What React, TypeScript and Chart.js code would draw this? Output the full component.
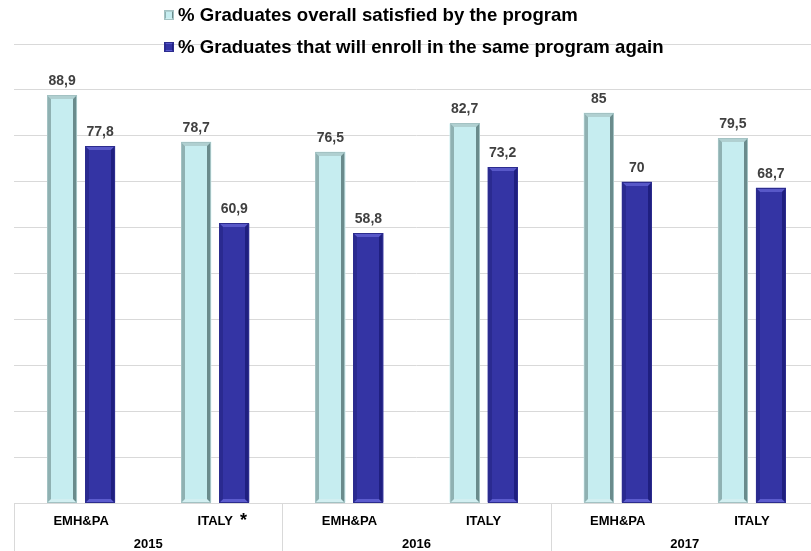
import React, { useEffect, useRef } from 'react';
import { Chart, registerables } from 'chart.js';

Chart.register(...registerables);

const categories = ['EMH&PA', 'ITALY *', 'EMH&PA', 'ITALY', 'EMH&PA', 'ITALY'];
const years = ['2015', '2016', '2017'];
const satisfied = [88.9, 78.7, 76.5, 82.7, 85, 79.5];
const enrollAgain = [77.8, 60.9, 58.8, 73.2, 70, 68.7];
const seriesNames = [
  '% Graduates overall satisfied by the program',
  '% Graduates that will enroll in the same program again',
];
const yMin = 0;
const yMax = 100;
const yStep = 10;

const FONT = 'Arial, "Liberation Sans", sans-serif';
const fills = ['#c6edf0', '#3434a4'];
const bevelTop = ['#b0d0d1', '#5858c8'];
const bevelLeft = ['#8fb1b2', '#2a2a90'];
const bevelRight = ['#6a8b8c', '#1f1f80'];
const bevelBottom = ['#d2eff1', '#5c5cce'];
const outlines = ['#a3c2c3', '#2c2c8e'];

const fmt = (v: number) => String(v).replace('.', ',');

function bevelRect(ctx: any, l: number, t: number, r: number, b: number, di: number, bw: number) {
  ctx.save();
  ctx.fillStyle = fills[di];
  ctx.fillRect(l, t, r - l, b - t);
  const poly = (pts: number[][], color: string) => {
    ctx.fillStyle = color;
    ctx.beginPath();
    ctx.moveTo(pts[0][0], pts[0][1]);
    for (let k = 1; k < pts.length; k++) ctx.lineTo(pts[k][0], pts[k][1]);
    ctx.closePath();
    ctx.fill();
  };
  poly([[l, t], [r, t], [r - bw, t + bw], [l + bw, t + bw]], bevelTop[di]);
  poly([[l, b], [r, b], [r - bw, b - bw], [l + bw, b - bw]], bevelBottom[di]);
  poly([[l, t], [l + bw, t + bw], [l + bw, b - bw], [l, b]], bevelLeft[di]);
  poly([[r, t], [r - bw, t + bw], [r - bw, b - bw], [r, b]], bevelRight[di]);
  ctx.strokeStyle = outlines[di];
  ctx.lineWidth = 1;
  ctx.strokeRect(l + 0.5, t + 0.5, r - l - 1, b - t - 1);
  ctx.restore();
}

const decorPlugin = {
  id: 'decor',
  afterDatasetsDraw(chart: any) {
    const ctx = chart.ctx;
    chart.data.datasets.forEach((ds: any, di: number) => {
      const meta = chart.getDatasetMeta(di);
      meta.data.forEach((bar: any, i: number) => {
        const p = bar.getProps(['x', 'y', 'base', 'width'], true);
        const l = Math.round(p.x - p.width / 2);
        const r = Math.round(p.x + p.width / 2);
        const t = Math.round(p.y);
        const b = Math.round(p.base);
        bevelRect(ctx, l, t, r, b, di, 4);
        ctx.save();
        ctx.font = `bold 14px ${FONT}`;
        ctx.fillStyle = '#404040';
        ctx.textAlign = 'center';
        ctx.textBaseline = 'middle';
        ctx.fillText(fmt(ds.data[i]), p.x, p.y - 14);
        ctx.restore();
      });
    });
  },
  afterDraw(chart: any) {
    const ctx = chart.ctx;
    const xs = chart.scales.x;
    const area = chart.chartArea;
    const catW = (xs.right - xs.left) / categories.length;
    ctx.save();
    ctx.strokeStyle = '#d9d9d9';
    ctx.lineWidth = 1;
    for (let k = 0; k <= years.length; k++) {
      const px = Math.round(xs.getPixelForValue(k * 2) - catW / 2) + 0.5;
      ctx.beginPath();
      ctx.moveTo(px, area.bottom);
      ctx.lineTo(px, chart.height);
      ctx.stroke();
    }
    ctx.font = `bold 13px ${FONT}`;
    categories.forEach((c, i) => {
      if (c.endsWith(' *')) {
        const base = c.slice(0, -2);
        const w = ctx.measureText(base).width;
        const px = xs.getPixelForTick(i);
        ctx.font = `bold 18px ${FONT}`;
        ctx.fillStyle = '#000';
        ctx.textAlign = 'left';
        ctx.textBaseline = 'middle';
        ctx.fillText('*', px + w / 2 + 7, 521);
        ctx.font = `bold 13px ${FONT}`;
      }
    });
    const rows = [15, 47];
    chart.data.datasets.forEach((ds: any, di: number) => {
      const y = rows[di];
      const x = 164;
      bevelRect(ctx, x, y - 5, x + 10, y + 5, di, 2);
      ctx.font = `bold 18.6px ${FONT}`;
      ctx.fillStyle = '#000';
      ctx.textAlign = 'left';
      ctx.textBaseline = 'middle';
      ctx.fillText(ds.label, 178, y + 1);
    });
    ctx.restore();
  },
};

export default function App() {
  const ref = useRef<HTMLCanvasElement | null>(null);
  useEffect(() => {
    document.body.style.margin = '0';
    const canvas = ref.current;
    if (!canvas) return;
    const chart = new Chart(canvas, {
      type: 'bar',
      data: {
        labels: categories,
        datasets: [
          {
            label: seriesNames[0],
            data: satisfied,
            backgroundColor: fills[0],
            borderWidth: 0,
          },
          {
            label: seriesNames[1],
            data: enrollAgain,
            backgroundColor: fills[1],
            borderWidth: 0,
          },
        ],
      },
      options: {
        responsive: false,
        animation: false,
        maintainAspectRatio: false,
        datasets: {
          bar: { categoryPercentage: 0.567, barPercentage: 0.79 },
        },
        layout: { padding: { top: 44, left: 14, right: 1, bottom: 0 } },
        plugins: {
          legend: { display: false },
          tooltip: { enabled: false },
          title: { display: false },
        },
        scales: {
          x: {
            position: 'bottom',
            grid: { display: false },
            border: { display: true, color: '#d9d9d9' },
            afterFit: (s: any) => { s.height = 24; },
            ticks: {
              color: '#000',
              font: { family: FONT, size: 13, weight: 'bold' },
              padding: 2.5,
              maxRotation: 0,
              autoSkip: false,
              callback: (_v: any, i: number) => categories[i].replace(/ \*$/, ''),
            },
          },
          x2: {
            type: 'category',
            labels: years,
            position: 'bottom',
            offset: true,
            grid: { display: false },
            border: { display: false },
            afterFit: (s: any) => { s.height = 24; },
            ticks: {
              color: '#000',
              font: { family: FONT, size: 13, weight: 'bold' },
              padding: 2,
              maxRotation: 0,
              autoSkip: false,
            },
          },
          y: {
            min: yMin,
            max: yMax,
            ticks: { display: false, stepSize: yStep },
            grid: { color: '#d9d9d9', drawTicks: false },
            border: { display: false },
          },
        },
      },
      plugins: [decorPlugin],
    });
    return () => chart.destroy();
  }, []);
  return (
    <div style={{ position: 'absolute', left: 0, top: 0, width: 811, height: 551, overflow: 'hidden' }}>
      <canvas ref={ref} width={820} height={551} style={{ display: 'block' }} />
    </div>
  );
}
